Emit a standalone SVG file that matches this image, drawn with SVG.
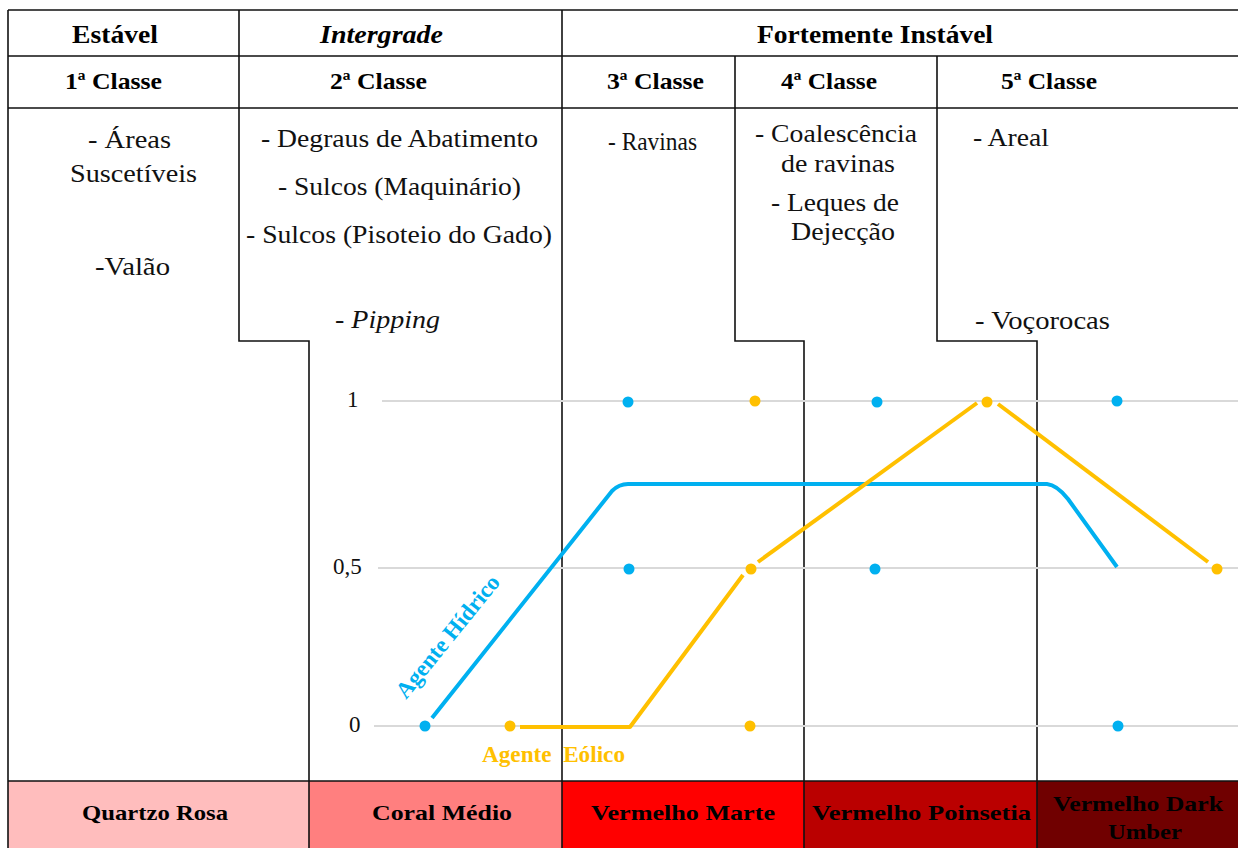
<svg xmlns="http://www.w3.org/2000/svg" width="1238" height="848" viewBox="0 0 1238 848">
<style>
.ln{stroke:#111;stroke-width:1.6;fill:none}
.grid{stroke:#D9D9D9;stroke-width:2}
.hd{font-family:"Liberation Serif","Times New Roman",serif;font-weight:bold;font-size:25px;fill:#000}
.cl{font-family:"Liberation Serif","Times New Roman",serif;font-weight:bold;font-size:23px;fill:#000}
.tx{font-family:"Liberation Serif","Times New Roman",serif;font-size:25px;fill:#111}
.ax{font-family:"Liberation Serif","Times New Roman",serif;font-size:23px;fill:#111}
.bt{font-family:"Liberation Serif","Times New Roman",serif;font-weight:bold;font-size:22px;fill:#000}
.blue{stroke:#00B0F0;stroke-width:4;fill:none;stroke-linejoin:round}
.yel{stroke:#FFC000;stroke-width:4;fill:none;stroke-linejoin:round}
.db{fill:#00B0F0}
.dy{fill:#FFC000}
</style>
<rect width="1238" height="848" fill="#fff"/>

<!-- bottom colour bar -->
<g id="bar-quartzo"><rect x="8" y="781" width="301" height="67" fill="#FFBDBD"/><text class="bt" x="82" y="820" textLength="146" lengthAdjust="spacingAndGlyphs">Quartzo Rosa</text></g>
<g id="bar-coral"><rect x="309" y="781" width="253" height="67" fill="#FF7F7F"/><text class="bt" x="372" y="820" textLength="140" lengthAdjust="spacingAndGlyphs">Coral Médio</text></g>
<g id="bar-marte"><rect x="562" y="781" width="242" height="67" fill="#FF0000"/><text class="bt" x="591" y="820" textLength="184" lengthAdjust="spacingAndGlyphs">Vermelho Marte</text></g>
<g id="bar-poinsetia"><rect x="804" y="781" width="233" height="67" fill="#BA0000"/><text class="bt" x="812" y="820" textLength="219" lengthAdjust="spacingAndGlyphs">Vermelho Poinsetia</text></g>
<g id="bar-umber"><rect x="1037" y="781" width="201" height="67" fill="#700000"/><text class="bt" x="1053" y="811" fill="#1a0000" textLength="170" lengthAdjust="spacingAndGlyphs">Vermelho Dark</text><text class="bt" x="1108" y="839" fill="#1a0000" textLength="74" lengthAdjust="spacingAndGlyphs">Umber</text></g>

<!-- table lines -->
<g id="table">
<path class="ln" d="M8,10 H1238 M8,56 H1238 M8,108 H1238 M8,781 H1238"/>
<path class="ln" d="M8,10 V848"/>
<path class="ln" d="M239,10 V341 H309 V848"/>
<path class="ln" d="M562,10 V848"/>
<path class="ln" d="M735,56 V341 H804 V848"/>
<path class="ln" d="M937,56 V341 H1037 V848"/>
</g>

<!-- header -->
<g id="hdr-estavel"><text class="hd" x="72" y="43" textLength="86" lengthAdjust="spacingAndGlyphs">Estável</text></g>
<g id="hdr-intergrade"><text class="hd" x="320" y="43" font-style="italic" textLength="123" lengthAdjust="spacingAndGlyphs">Intergrade</text></g>
<g id="hdr-fortemente"><text class="hd" x="757" y="43" textLength="236" lengthAdjust="spacingAndGlyphs">Fortemente Instável</text></g>

<g id="classe1"><text class="cl" x="65" y="89" textLength="97" lengthAdjust="spacingAndGlyphs">1ª Classe</text>
<text class="tx" x="88" y="148" textLength="83" lengthAdjust="spacingAndGlyphs">- Áreas</text>
<text class="tx" x="70" y="182" textLength="127" lengthAdjust="spacingAndGlyphs">Suscetíveis</text>
<text class="tx" x="95" y="275" textLength="75" lengthAdjust="spacingAndGlyphs">-Valão</text></g>

<g id="classe2"><text class="cl" x="330" y="89" textLength="97" lengthAdjust="spacingAndGlyphs">2ª Classe</text>
<text class="tx" x="261" y="147" textLength="277" lengthAdjust="spacingAndGlyphs">- Degraus de Abatimento</text>
<text class="tx" x="278" y="195" textLength="243" lengthAdjust="spacingAndGlyphs">- Sulcos (Maquinário)</text>
<text class="tx" x="246" y="243" textLength="306" lengthAdjust="spacingAndGlyphs">- Sulcos (Pisoteio do Gado)</text>
<text class="tx" x="335" y="328" textLength="105" lengthAdjust="spacingAndGlyphs">- <tspan font-style="italic">Pipping</tspan></text></g>

<g id="classe3"><text class="cl" x="607" y="89" textLength="97" lengthAdjust="spacingAndGlyphs">3ª Classe</text>
<text class="tx" x="608" y="150" textLength="89" lengthAdjust="spacingAndGlyphs">- Ravinas</text></g>

<g id="classe4"><text class="cl" x="781" y="89" textLength="96" lengthAdjust="spacingAndGlyphs">4ª Classe</text>
<text class="tx" x="755" y="142" textLength="162" lengthAdjust="spacingAndGlyphs">- Coalescência</text>
<text class="tx" x="781" y="172" textLength="114" lengthAdjust="spacingAndGlyphs">de ravinas</text>
<text class="tx" x="771" y="211" textLength="128" lengthAdjust="spacingAndGlyphs">- Leques de</text>
<text class="tx" x="791" y="240" textLength="104" lengthAdjust="spacingAndGlyphs">Dejecção</text></g>

<g id="classe5"><text class="cl" x="1001" y="89" textLength="96" lengthAdjust="spacingAndGlyphs">5ª Classe</text>
<text class="tx" x="973" y="146" textLength="76" lengthAdjust="spacingAndGlyphs">- Areal</text>
<text class="tx" x="975" y="329" textLength="135" lengthAdjust="spacingAndGlyphs">- Voçorocas</text></g>

<!-- chart -->
<g id="chart-grid">
<line class="grid" x1="382" y1="401" x2="1238" y2="401"/>
<line class="grid" x1="378" y1="568" x2="1238" y2="568"/>
<line class="grid" x1="374" y1="726" x2="1238" y2="726"/>
<text class="ax" x="347" y="407">1</text>
<text class="ax" x="333" y="574">0,5</text>
<text class="ax" x="349" y="732">0</text>
</g>

<g id="connectors">
<path class="blue" d="M432,718 L612,491 Q619,484 628,484 L1047,484 Q1057,485 1068,499 L1117,567"/>
<path class="yel" d="M520,727 L630,727 L743,575"/>
<path class="yel" d="M758,562 L977,403"/>
<path class="yel" d="M998,404 L1208,562"/>
</g>

<g id="points">
<circle class="db" cx="628" cy="402" r="5.5"/>
<circle class="db" cx="629" cy="569" r="5.5"/>
<circle class="db" cx="425" cy="726" r="5.5"/>
<circle class="db" cx="877" cy="402" r="5.5"/>
<circle class="db" cx="875" cy="569" r="5.5"/>
<circle class="db" cx="1117" cy="401" r="5.5"/>
<circle class="db" cx="1118" cy="726" r="5.5"/>
<circle class="dy" cx="755" cy="401" r="5.5"/>
<circle class="dy" cx="510" cy="726" r="5.5"/>
<circle class="dy" cx="751" cy="569" r="5.5"/>
<circle class="dy" cx="750" cy="726" r="5.5"/>
<circle class="dy" cx="987" cy="402" r="5.5"/>
<circle class="dy" cx="1217" cy="569" r="5.5"/>
</g>

<g id="label-hidrico"><text x="406" y="700" transform="rotate(-51 406 700)" font-family="Liberation Serif, Times New Roman, serif" font-weight="bold" font-size="23" fill="#00B0F0" textLength="151" lengthAdjust="spacingAndGlyphs">Agente Hídrico</text></g>
<g id="label-eolico"><text x="482" y="762" font-family="Liberation Serif, Times New Roman, serif" font-weight="bold" font-size="23" fill="#FFC000" textLength="143" lengthAdjust="spacingAndGlyphs" xml:space="preserve">Agente  Eólico</text></g>
</svg>
